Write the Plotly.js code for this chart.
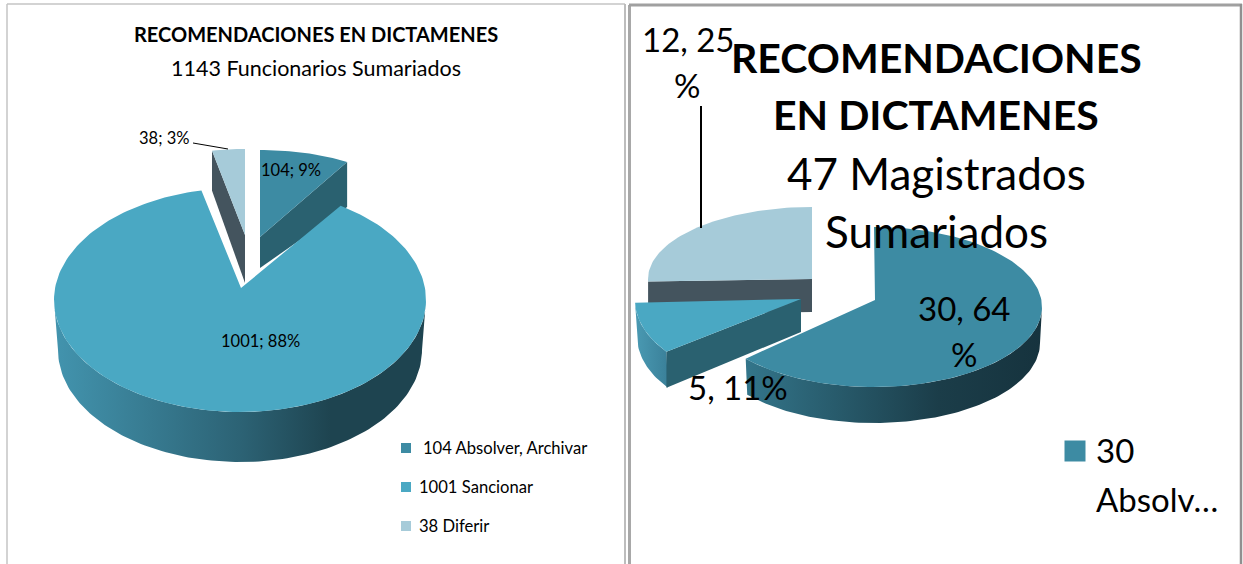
<!DOCTYPE html>
<html><head><meta charset="utf-8">
<script src="https://cdn.plot.ly/plotly-3.0.1.min.js"></script>
<style>html,body{margin:0;padding:0;background:#fff}</style></head>
<body><div id="chart" style="width:1243px;height:564px"></div>
<script>
// ---- data ----
const funcionariosLabels = ['104 Absolver, Archivar', '1001 Sancionar', '38 Diferir'];
const funcionariosValues = [104, 1001, 38];
const funcionariosPercent = ['9%', '88%', '3%'];
const magistradosLegend = ['30', 'Absolv…'];
const magistradosValues = [30, 5, 12];
const magistradosPercent = ['64', '11%', '25'];

// ---- colours ----
const C = {a:'#3d8ba3', b:'#4aa8c3', c:'#a6cbd9', faceA:'#2a6170', faceC:'#44545e'};
const WIDE = 'Lato,"Open Sans",sans-serif';

// ---- geometry helpers: slice angles come only from the values ----
function angles(vals){
  const total = vals.reduce((s,v)=>s+v,0); let acc = 0;
  return vals.map(v=>{const a0=acc/total*360; acc+=v; return [a0,acc/total*360];});
}
function arc(e,a0,a1,dy,rx){
  const out=[], n=Math.max(2,Math.ceil(Math.abs(a1-a0)/1.5));
  for(let i=0;i<=n;i++){
    const r=(a0+(a1-a0)*i/n)*Math.PI/180;
    out.push([e.cx+(rx||e.rx)*Math.sin(r), e.cy+(dy||0)-e.ry*Math.cos(r)]);
  }
  return out;
}
const traces=[];
function poly(pts,fill,grad){
  const t={type:'scatter',mode:'lines',x:pts.map(p=>p[0]).concat(pts[0][0]),y:pts.map(p=>p[1]).concat(pts[0][1]),
    fill:'toself',line:{width:0,color:'rgba(0,0,0,0)'},hoverinfo:'skip',showlegend:false};
  if(grad) t.fillgradient=grad; else t.fillcolor=fill;
  traces.push(t);
}
function wedgeTop(e,a0,a1,fill){ poly([[e.ax,e.ay]].concat(arc(e,a0,a1)),fill); }
function wedgeFace(e,a,fill,depthApex,depthOuter){
  const p=arc(e,a,a)[0];
  poly([[e.ax,e.ay],p,[p[0],p[1]+depthOuter],[e.ax,e.ay+depthApex]],fill);
}
function wedgeSide(e,a0,a1,depth,rx2,grad){
  poly(arc(e,a0,a1).concat(arc(e,a1,a0,depth,rx2)),null,grad);
}
function leader(x,y,w){traces.push({type:'scatter',mode:'lines',x:x,y:y,line:{color:'#000',width:w},hoverinfo:'skip',showlegend:false});}
function square(x,y,size,color){traces.push({type:'scatter',mode:'markers',x:[x],y:[y],marker:{symbol:'square',size:size,color:color,line:{width:0}},hoverinfo:'skip',showlegend:false});}

// ---- left pie ----
const L = angles(funcionariosValues);
const lA={cx:260,cy:225,rx:161,ry:75,ax:260,ay:237};
const lB={cx:240,cy:300,rx:186,ry:112,ax:241,ay:288};
const lC={cx:245,cy:224,rx:159,ry:75,ax:245,ay:235};
wedgeFace(lA,L[0][1],C.faceA,31,45);
wedgeTop(lA,L[0][0],L[0][1],C.a);
wedgeFace(lC,L[2][0],C.faceC,48,40);
wedgeTop(lC,L[2][0],L[2][1],C.c);
wedgeSide(lB,90,270,50,182,{type:'horizontal',start:58,stop:426,colorscale:[[0,'#4293ad'],[0.5,'#2c6274'],[0.74,'#1e4450'],[1,'#1e4450']]});
wedgeTop(lB,L[1][0],L[1][1],C.b);
leader([193,228],[143,149],1);

// ---- right pie ----
const R = angles(magistradosValues);
const rA={cx:874,cy:307,rx:168,ry:80,ax:875,ay:300};
const rB={cx:768,cy:300,rx:133,ry:80,ax:801,ay:299};
const rC={cx:812,cy:279,rx:164,ry:72,ax:812,ay:279};
wedgeFace(rC,R[2][0],C.faceC,33,33);
wedgeTop(rC,R[2][0],R[2][1],C.c);
wedgeSide(rA,90,R[0][1],36,166,{type:'horizontal',start:746,stop:1042,colorscale:[[0,'#33758a'],[0.65,'#1b3d49'],[1,'#16333e']]});
wedgeTop(rA,R[0][0],R[0][1],C.a);
wedgeSide(rB,R[1][0],R[1][1],36,131,{type:'horizontal',start:635,stop:668,colorscale:[[0,'#4a9ab3'],[1,'#3a8099']]});
wedgeFace(rB,R[1][0],C.faceA,33,36);
wedgeTop(rB,R[1][0],R[1][1],C.b);
leader([701,701],[106,228],2);

// ---- legend swatches ----
[C.a,C.b,C.c].forEach((c,i)=>square(406,[448,487,526][i],10,c));
square(1075,451,21,C.a);

// ---- text ----
function T(text,x,y,size,fam,bold,anchor){
  return {text:bold?'<b>'+text+'</b>':text,x:x,y:y,xref:'x',yref:'y',showarrow:false,xanchor:anchor||'center',yanchor:'middle',
    font:{family:fam,size:size,color:'#000'}};
}
const annotations=[
  T('RECOMENDACIONES EN DICTAMENES',316,34,20,WIDE,true),
  T('1143 Funcionarios Sumariados',316,68,21.5,WIDE,false),
  T(funcionariosValues[0]+'; '+funcionariosPercent[0],291,170,16.5,WIDE),
  T(funcionariosValues[1]+'; '+funcionariosPercent[1],260,341,16.5,WIDE),
  T(funcionariosValues[2]+'; '+funcionariosPercent[2],164,138,16.5,WIDE),
  T(funcionariosLabels[0],421,448,16.6,WIDE,false,'left'),
  T(funcionariosLabels[1],417,487,16.6,WIDE,false,'left'),
  T(funcionariosLabels[2],417,526,16.6,WIDE,false,'left'),
  T('RECOMENDACIONES',936,57,41,WIDE,true),
  T('EN DICTAMENES',936,114,41,WIDE,true),
  T('47 Magistrados',936,173,44,WIDE),
  T('Sumariados',936,231,44,WIDE),
  T(magistradosValues[2]+', '+magistradosPercent[2],688,39,33,WIDE),
  T('%',687,85,33,WIDE),
  T(magistradosValues[0]+', '+magistradosPercent[0],964,308,33,WIDE),
  T('%',964,354,33,WIDE),
  T(magistradosValues[1]+', '+magistradosPercent[1],738,387,33,WIDE),
  T(magistradosLegend[0],1094,450,33,WIDE,false,'left'),
  T(magistradosLegend[1],1094,499,33,WIDE,false,'left')
];
// ---- panel frames ----
function rule(x0,y0,x1,y1,c,w){return {type:'line',xref:'x',yref:'y',x0,y0,x1,y1,line:{color:c,width:w}};}
const shapes=[
  rule(7,4,7,564,'#c4c4c4',1.5), rule(7,4,625,4,'#c4c4c4',1.5), rule(625,4,625,564,'#bdbdbd',2),
  rule(629.5,5,629.5,564,'#a8a8a8',3), rule(629,5,1242,5,'#a0a0a0',3), rule(1241,4,1241,564,'#909090',2.5)
];
Plotly.newPlot('chart',traces,{
  width:1243,height:564,margin:{l:0,r:0,t:0,b:0},paper_bgcolor:'#fff',plot_bgcolor:'#fff',showlegend:false,
  xaxis:{range:[0,1243],visible:false,fixedrange:true},
  yaxis:{range:[564,0],visible:false,fixedrange:true},
  annotations,shapes,hovermode:false
},{staticPlot:true,displayModeBar:false});
</script></body></html>
